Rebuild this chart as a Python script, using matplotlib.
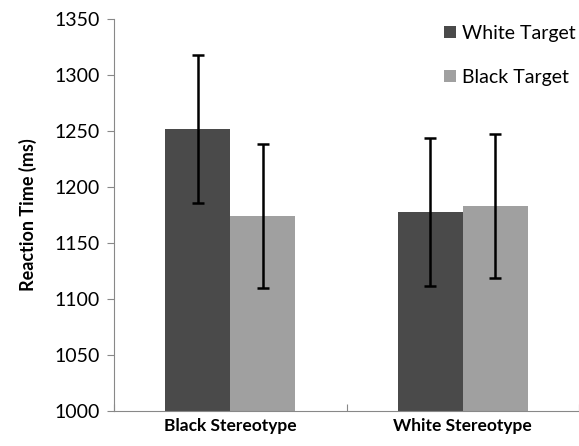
import numpy as np
from matplotlib import pyplot as plt

# data
groups = ["Black Stereotype", "White Stereotype"]
series = ["White Target", "Black Target"]
white_target = [1252, 1178]
black_target = [1174, 1183]
white_err = [66, 66]
black_err = [64, 64]
colors = ["#4a4a4a", "#a0a0a0"]

plt.rcParams['font.family'] = ['Lato', 'DejaVu Sans']

fig = plt.figure(figsize=(5.79, 4.46), dpi=100)
ax = fig.add_axes([114/579, 1 - 411/446, 465/579, (411 - 19)/446])

x = np.arange(len(groups))
w = 0.28
ax.bar(x - w/2, white_target, w, color=colors[0], label=series[0])
ax.bar(x + w/2, black_target, w, color=colors[1], label=series[1])
ax.errorbar(x - w/2, white_target, yerr=white_err, fmt="none",
            ecolor="black", elinewidth=1.8, capsize=4, capthick=1.8)
ax.errorbar(x + w/2, black_target, yerr=black_err, fmt="none",
            ecolor="black", elinewidth=1.8, capsize=4, capthick=1.8)

ax.set_ylim(1000, 1350)
ax.set_yticks(np.arange(1000, 1351, 50))
ax.set_xlim(-0.5, -0.5 + 465/236)

# excel style: ticks between categories, labels at centres
ax.set_xticks([-0.5, 0.5, 1.5])
ax.set_xticklabels([])
ax.set_xticks(x, minor=True)
ax.set_xticklabels(groups, minor=True, fontweight="bold", fontsize=12.5)
ax.tick_params(axis="x", which="minor", length=0, pad=5)
ax.tick_params(axis="x", which="major", length=5, color="#888888", direction="in")
ax.tick_params(axis="y", length=5, color="#888888", labelsize=14, pad=5)

for s in ["top", "right"]:
    ax.spines[s].set_visible(False)
for s in ["left", "bottom"]:
    ax.spines[s].set_color("#888888")

ax.set_ylabel("Reaction Time (ms)", fontweight="bold", fontsize=13, labelpad=13)

ax.legend(loc="upper right", bbox_to_anchor=(1.03, 1.03), frameon=False,
          fontsize=14, handlelength=0.6, handleheight=0.6, handletextpad=0.3,
          labelspacing=1.4)

plt.savefig("out.png", dpi=100)
